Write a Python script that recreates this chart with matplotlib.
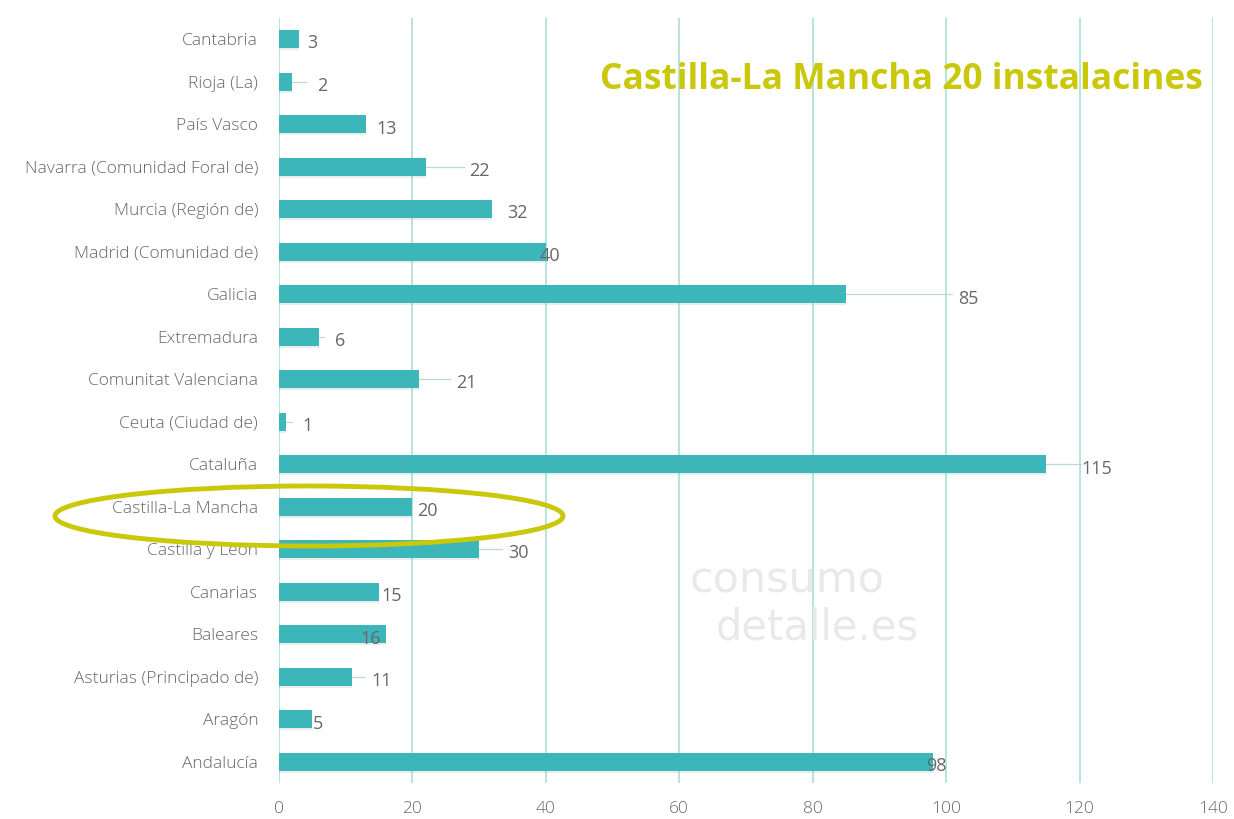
import matplotlib.pyplot as plt
from matplotlib.patches import Ellipse

# data, top to bottom as shown
regions = ["Cantabria", "Rioja (La)", "País Vasco", "Navarra (Comunidad Foral de)",
           "Murcia (Región de)", "Madrid (Comunidad de)", "Galicia", "Extremadura",
           "Comunitat Valenciana", "Ceuta (Ciudad de)", "Cataluña", "Castilla-La Mancha",
           "Castilla y León", "Canarias", "Baleares", "Asturias (Principado de)",
           "Aragón", "Andalucía"]
counts = [3, 2, 13, 22, 32, 40, 85, 6, 21, 1, 115, 20, 30, 15, 16, 11, 5, 98]

# label offset from bar end (pixels) and whether a leader line is drawn
label_dx = [13, 30, 21, 54, 25, 4, 122, 21, 47, 22, 51, 15, 39, 13, -15, 29, 6, 4]
leader = [0, 1, 0, 1, 0, 0, 1, 1, 1, 1, 1, 0, 1, 0, 0, 1, 0, 0]

bar_col = "#3cb6b9"
grid_col = "#a9dfd6"
text_col = "#676767"
hl_col = "#c9c80a"

fig = plt.figure(figsize=(12.34, 8.19), dpi=100)
ax = fig.add_axes([279/1234, 1-783/819, 934/1234, 765/819])

ypos = list(range(len(regions)))
# faint shadow under the bars
ax.barh([y + 0.05 for y in ypos], counts, height=0.42, color="#9aa6a6", alpha=0.2,
        zorder=2, linewidth=0)
ax.barh(ypos, counts, height=0.42, color=bar_col, zorder=3)
ax.set_ylim(len(regions)-0.5, -0.5)
ax.set_xlim(0, 140)
ax.set_xticks(range(0, 141, 20))
ax.set_yticks(ypos)
ax.set_yticklabels(regions)
ax.tick_params(length=0, colors=text_col, labelsize=12.5)
ax.tick_params(axis="x", pad=13)
ax.tick_params(axis="y", pad=15)
for lab in ax.get_xticklabels() + ax.get_yticklabels():
    lab.set_fontfamily("Open Sans")
    lab.set_fontweight("light")
ax.grid(axis="x", color=grid_col, linewidth=1.2, zorder=1)
for s in ax.spines.values():
    s.set_visible(False)

# px -> data units
px = 140 / 934.0
for i, v in enumerate(counts):
    x_lab = v + label_dx[i] * px
    if leader[i]:
        ax.plot([v, x_lab - 16 * px], [i, i], color="#b9d8d8", lw=0.9, zorder=2)
    ax.text(x_lab, i + 0.1, str(v), ha="center", va="center", fontsize=13,
            color=text_col, family="Open Sans", zorder=4)

# watermark
fig.text(690/1234, 1-580/819, "consumo", fontsize=31, color="#e9e9e9",
         family="DejaVu Sans", va="center", ha="left", zorder=0)
fig.text(716/1234, 1-627/819, "detalle.es", fontsize=30, color="#e9e9e9",
         family="DejaVu Sans", va="center", ha="left", zorder=0)

# highlight
fig.text(1203/1234, 1-80/819, "Castilla-La Mancha 20 instalacines", color=hl_col,
         fontsize=25.5, fontweight="bold", family="Open Sans", ha="right", va="center")
fig.patches.append(Ellipse((309/1234, 1-516/819), 508/1234, 60/819,
                           transform=fig.transFigure, fill=False,
                           edgecolor=hl_col, linewidth=3.5, zorder=10))

fig.savefig("out.png", dpi=100, facecolor="white")
